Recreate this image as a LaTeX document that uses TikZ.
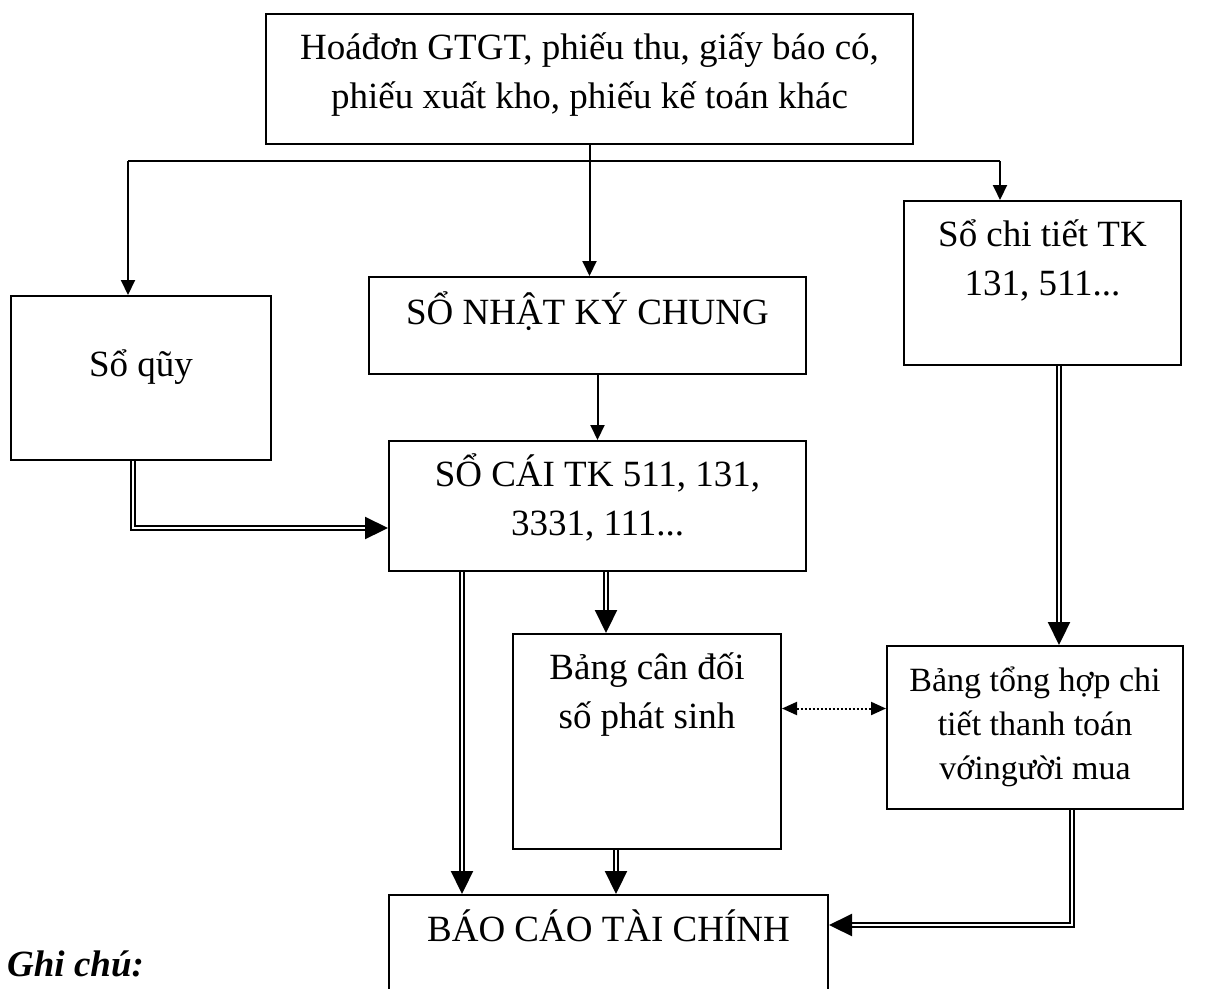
\documentclass[tikz,border=0pt]{standalone}
\usepackage{fontspec}
\setmainfont{Liberation Serif}
\usetikzlibrary{arrows.meta,calc}
\tikzset{
  box/.style={draw, line width=2pt, inner sep=0pt, anchor=north west, font=\fontsize{37}{49}\selectfont},
  line/.style={line width=2pt},
  arr/.style={line width=2pt, -{Triangle[length=15pt,width=14pt]}},
  dbl/.style={double, line width=2.2pt, double distance=2pt, -{Triangle[length=23pt,width=22pt]}},
  dotarr/.style={line width=2pt, dash pattern=on 2pt off 2pt, {Triangle[length=15pt,width=13pt]}-{Triangle[length=15pt,width=13pt]}},
}
\newcommand{\boxtext}[4]{\parbox[c][#2pt][t]{#1pt}{\centering\rule{0pt}{#3pt}#4}}
\begin{document}
\begin{tikzpicture}[x=1pt,y=-1pt]
\useasboundingbox (0,0) rectangle (1206,988);
\clip (0,0) rectangle (1206,988);
% boxes
\node[box] (top) at (265,13) {\boxtext{647}{130}{45}{Hoáđơn GTGT, phiếu thu, giấy báo có,\\phiếu xuất kho, phiếu kế toán khác}};
\node[box] (quy) at (10,295) {\boxtext{260}{164}{80}{Sổ qũy}};
\node[box] (nkc) at (368,276) {\boxtext{437}{97}{47}{SỔ NHẬT KÝ CHUNG}};
\node[box] (ct) at (903,200) {\boxtext{277}{164}{45}{Sổ chi tiết TK\\131, 511...}};
\node[box] (socai) at (388,440) {\boxtext{417}{130}{45}{SỔ CÁI TK 511, 131,\\3331, 111...}};
\node[box] (bcd) at (512,633) {\boxtext{268}{215}{45}{Bảng cân đối\\số phát sinh}};
\node[box, font=\fontsize{34}{44}\selectfont] (th) at (886,645) {\boxtext{296}{163}{45}{Bảng tổng hợp chi\\tiết thanh toán\\vớingười mua}};
\node[box] (bc) at (388,894) {\boxtext{439}{140}{46}{BÁO CÁO TÀI CHÍNH}};
\node[anchor=base west, inner sep=0pt, font=\fontsize{37}{44}\selectfont\bfseries\itshape] (gc) at (7,976) {Ghi chú:};
% connectors from the top box
\coordinate (jl) at (128,161);
\coordinate (jr) at (1000,161);
\draw[line] (jl) -- (jr);
\draw[arr] (top.south) -- (top.south |- nkc.north);
\draw[arr] (jl) -- (jl |- quy.north);
\draw[arr] (jr) -- (jr |- ct.north);
\draw[arr] (socai.north |- nkc.south) -- (socai.north);
% double connectors
\draw[dbl] ([xshift=-8pt]quy.south) |- ([yshift=-22pt]socai.west);
\draw[dbl] ([xshift=74pt]socai.south west) -- ([xshift=74pt]socai.south west |- bc.north);
\draw[dbl] ([xshift=218pt]socai.south west) -- ([xshift=218pt]socai.south west |- bcd.north);
\draw[dbl] ([xshift=-31pt]bcd.south) -- ([xshift=-31pt]bcd.south |- bc.north);
\draw[dbl] ([xshift=16.5pt]ct.south) -- ([xshift=16.5pt]ct.south |- th.north);
\draw[dbl] ([xshift=37pt]th.south) |- ([yshift=-31pt]bc.north east);
% dotted two-way
\coordinate (d) at ([yshift=33pt]bcd.east);
\draw[dotarr] (d) -- (d -| th.west);
\end{tikzpicture}
\end{document}
